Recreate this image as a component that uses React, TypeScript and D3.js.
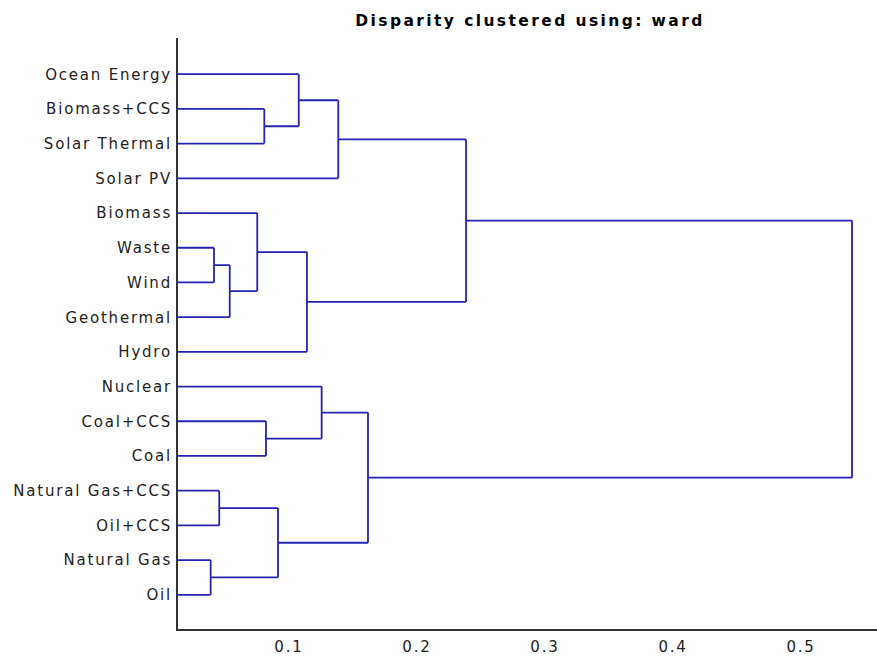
import React from "react";
import * as d3 from "d3";

const leafNames = [
  "Ocean Energy", "Biomass+CCS", "Solar Thermal", "Solar PV",
  "Biomass", "Waste", "Wind", "Geothermal", "Hydro",
  "Nuclear", "Coal+CCS", "Coal", "Natural Gas+CCS", "Oil+CCS", "Natural Gas", "Oil",
];

// merges: [id, left child, right child, height]
const merges: [string, string, string, number][] = [
  ["A", "Biomass+CCS", "Solar Thermal", 0.0815],
  ["B", "Ocean Energy", "A", 0.1084],
  ["C", "B", "Solar PV", 0.1393],
  ["D", "Waste", "Wind", 0.0422],
  ["E", "D", "Geothermal", 0.0545],
  ["F", "Biomass", "E", 0.076],
  ["G", "F", "Hydro", 0.1148],
  ["H", "C", "G", 0.2391],
  ["I", "Coal+CCS", "Coal", 0.0828],
  ["J", "Nuclear", "I", 0.1263],
  ["K", "Natural Gas+CCS", "Oil+CCS", 0.0463],
  ["L", "Natural Gas", "Oil", 0.0396],
  ["M", "K", "L", 0.0922],
  ["N", "J", "M", 0.1625],
  ["root", "H", "N", 0.5406],
];

const tickValues = [0.1, 0.2, 0.3, 0.4, 0.5];
const leafBase = 0.0133;
const title = "Disparity clustered using: ward";

type Node = { name: string; height: number; children?: Node[] };

function buildTree(): Node {
  const map = new Map<string, Node>();
  leafNames.forEach((n) => map.set(n, { name: n, height: leafBase }));
  merges.forEach(([id, l, r, h]) => {
    map.set(id, { name: id, height: h, children: [map.get(l)!, map.get(r)!] });
  });
  return map.get("root")!;
}

export default function App() {
  const W = 877, H = 659;
  const x = d3.scaleLinear().domain([leafBase, 0.5406]).range([177, 852]);
  const y = d3.scaleLinear().domain([-1, leafNames.length]).range([39.5, 629.5]);

  const root = d3.hierarchy(buildTree());
  const pos = new Map<any, number>();
  root.leaves().forEach((lf) => pos.set(lf, y(leafNames.indexOf(lf.data.name))));
  root.eachAfter((nd) => {
    if (nd.children) {
      const ys = nd.children.map((c) => pos.get(c)!);
      pos.set(nd, d3.mean(ys)!);
    }
  });

  const segs: string[] = [];
  root.each((nd) => {
    if (nd.children) {
      const px = x(nd.data.height);
      const ys = nd.children.map((c) => pos.get(c)!);
      let d = `M${px},${d3.min(ys)}V${d3.max(ys)}`;
      nd.children.forEach((c) => {
        d += `M${x(c.data.height)},${pos.get(c)}H${px}`;
      });
      segs.push(d);
    }
  });

  const font = "'DejaVu Sans', Verdana, sans-serif";
  const line = "#2424b0";

  return (
    <svg width={W} height={H} style={{ position: "absolute", left: 0, top: 0, background: "#fff" }}>
      <text x={530} y={26} textAnchor="middle" fontFamily={font} fontWeight="bold" fontSize={15.5} letterSpacing={2.4} fill="#000">
        {title}
      </text>
      {segs.map((d, i) => (
        <path key={i} d={d} fill="none" stroke={line} strokeWidth={1.8} />
      ))}
      <line x1={177} x2={177} y1={38} y2={631} stroke="#333" strokeWidth={2} />
      <line x1={176} x2={877} y1={630} y2={630} stroke="#333" strokeWidth={2} />
      {tickValues.map((t) => (
        <text key={t} x={x(t) + 1} y={652} textAnchor="middle" fontFamily={font} fontSize={15} letterSpacing={1.8} fill="#222">
          {d3.format(".1f")(t)}
        </text>
      ))}
      {leafNames.map((n, i) => (
        <text key={n} x={172} y={y(i)} dy="0.36em" textAnchor="end" fontFamily={font} fontSize={15} letterSpacing={1.8} fill="#222">
          {n}
        </text>
      ))}
    </svg>
  );
}
